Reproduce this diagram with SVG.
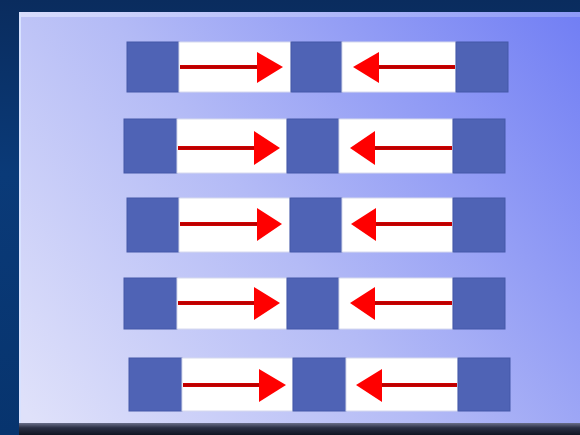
<svg xmlns="http://www.w3.org/2000/svg" width="580" height="435" viewBox="0 0 580 435">
  <defs>
    <linearGradient id="bg" x1="0" y1="0" x2="0" y2="1">
      <stop offset="0" stop-color="#0a2c5e"/>
      <stop offset="0.4" stop-color="#0a3a78"/>
      <stop offset="1" stop-color="#07346e"/>
    </linearGradient>
    <linearGradient id="panel" gradientUnits="userSpaceOnUse" x1="40" y1="430" x2="580" y2="20">
      <stop offset="0" stop-color="#dfe1fa"/>
      <stop offset="0.45" stop-color="#b4bbf6"/>
      <stop offset="1" stop-color="#727ff4"/>
    </linearGradient>
    <linearGradient id="shadow" x1="0" y1="0" x2="0" y2="1">
      <stop offset="0" stop-color="#6a6f8a"/>
      <stop offset="0.4" stop-color="#2a2f45"/>
      <stop offset="1" stop-color="#101522"/>
    </linearGradient>
    <linearGradient id="topband" x1="0" y1="0" x2="1" y2="0">
      <stop offset="0" stop-color="#e4e8ff"/>
      <stop offset="1" stop-color="#9aa6f8"/>
    </linearGradient>
    <style>
      .blk { fill: #4f63b5; stroke: #4558a8; stroke-width: 1; }
      .wht { fill: #ffffff; stroke: #d6d9ee; stroke-width: 1; }
      .ln { stroke: #d00000; stroke-width: 4; fill: none; }
      .lnc { stroke: #b00000; stroke-width: 1.5; fill: none; }
      .hd { fill: #ff0000; }
    </style>
  </defs>

  <rect x="0" y="0" width="580" height="435" fill="url(#bg)"/>
  <!-- panel -->
  <rect x="19" y="12" width="561" height="413" fill="url(#panel)"/>
  <rect x="19" y="12" width="561" height="5" fill="url(#topband)" opacity="0.7"/>
  <rect x="19" y="12" width="2" height="413" fill="#d8e2ff"/>
  <rect x="19" y="423" width="561" height="12" fill="url(#shadow)"/>

  <g id="row1">
    <rect class="blk" x="127" y="42" width="52" height="50"/>
    <rect class="wht" x="179" y="42" width="112" height="50"/>
    <rect class="blk" x="291" y="42" width="51" height="50"/>
    <rect class="wht" x="342" y="42" width="114" height="50"/>
    <rect class="blk" x="456" y="42" width="52" height="50"/>
  </g>
  <g id="row2">
    <rect class="blk" x="124" y="119" width="53" height="54"/>
    <rect class="wht" x="177" y="119" width="110" height="54"/>
    <rect class="blk" x="287" y="119" width="52" height="54"/>
    <rect class="wht" x="339" y="119" width="114" height="54"/>
    <rect class="blk" x="453" y="119" width="52" height="54"/>
  </g>
  <g id="row3">
    <rect class="blk" x="127" y="198" width="52" height="54"/>
    <rect class="wht" x="179" y="198" width="111" height="54"/>
    <rect class="blk" x="290" y="198" width="52" height="54"/>
    <rect class="wht" x="342" y="198" width="111" height="54"/>
    <rect class="blk" x="453" y="198" width="52" height="54"/>
  </g>
  <g id="row4">
    <rect class="blk" x="124" y="278" width="53" height="51"/>
    <rect class="wht" x="177" y="278" width="110" height="51"/>
    <rect class="blk" x="287" y="278" width="52" height="51"/>
    <rect class="wht" x="339" y="278" width="114" height="51"/>
    <rect class="blk" x="453" y="278" width="52" height="51"/>
  </g>
  <g id="row5">
    <rect class="blk" x="129" y="358" width="53" height="53"/>
    <rect class="wht" x="182" y="358" width="111" height="53"/>
    <rect class="blk" x="293" y="358" width="53" height="53"/>
    <rect class="wht" x="346" y="358" width="112" height="53"/>
    <rect class="blk" x="458" y="358" width="52" height="53"/>
  </g>

  <g id="connectors">
    <line class="ln" x1="180" y1="67" x2="260" y2="67"/>
    <line class="lnc" x1="180" y1="67" x2="260" y2="67"/>
    <polygon class="hd" points="257,52 283,67 257,83"/>
    <line class="ln" x1="376" y1="67" x2="455" y2="67"/>
    <line class="lnc" x1="376" y1="67" x2="455" y2="67"/>
    <polygon class="hd" points="379,52 353,67 379,83"/>
    <line class="ln" x1="178" y1="148" x2="257" y2="148"/>
    <line class="lnc" x1="178" y1="148" x2="257" y2="148"/>
    <polygon class="hd" points="254,131 280,148 254,165"/>
    <line class="ln" x1="372" y1="148" x2="452" y2="148"/>
    <line class="lnc" x1="372" y1="148" x2="452" y2="148"/>
    <polygon class="hd" points="375,131 350,148 375,165"/>
    <line class="ln" x1="180" y1="224" x2="259" y2="224"/>
    <line class="lnc" x1="180" y1="224" x2="259" y2="224"/>
    <polygon class="hd" points="257,208 282,224 257,241"/>
    <line class="ln" x1="373" y1="224" x2="452" y2="224"/>
    <line class="lnc" x1="373" y1="224" x2="452" y2="224"/>
    <polygon class="hd" points="376,208 351,224 376,241"/>
    <line class="ln" x1="178" y1="303" x2="257" y2="303"/>
    <line class="lnc" x1="178" y1="303" x2="257" y2="303"/>
    <polygon class="hd" points="254,287 280,303 254,320"/>
    <line class="ln" x1="372" y1="303" x2="452" y2="303"/>
    <line class="lnc" x1="372" y1="303" x2="452" y2="303"/>
    <polygon class="hd" points="375,287 350,303 375,320"/>
    <line class="ln" x1="183" y1="385" x2="262" y2="385"/>
    <line class="lnc" x1="183" y1="385" x2="262" y2="385"/>
    <polygon class="hd" points="259,369 286,385 259,402"/>
    <line class="ln" x1="379" y1="385" x2="457" y2="385"/>
    <line class="lnc" x1="379" y1="385" x2="457" y2="385"/>
    <polygon class="hd" points="382,369 356,385 382,402"/>
  </g>
</svg>
